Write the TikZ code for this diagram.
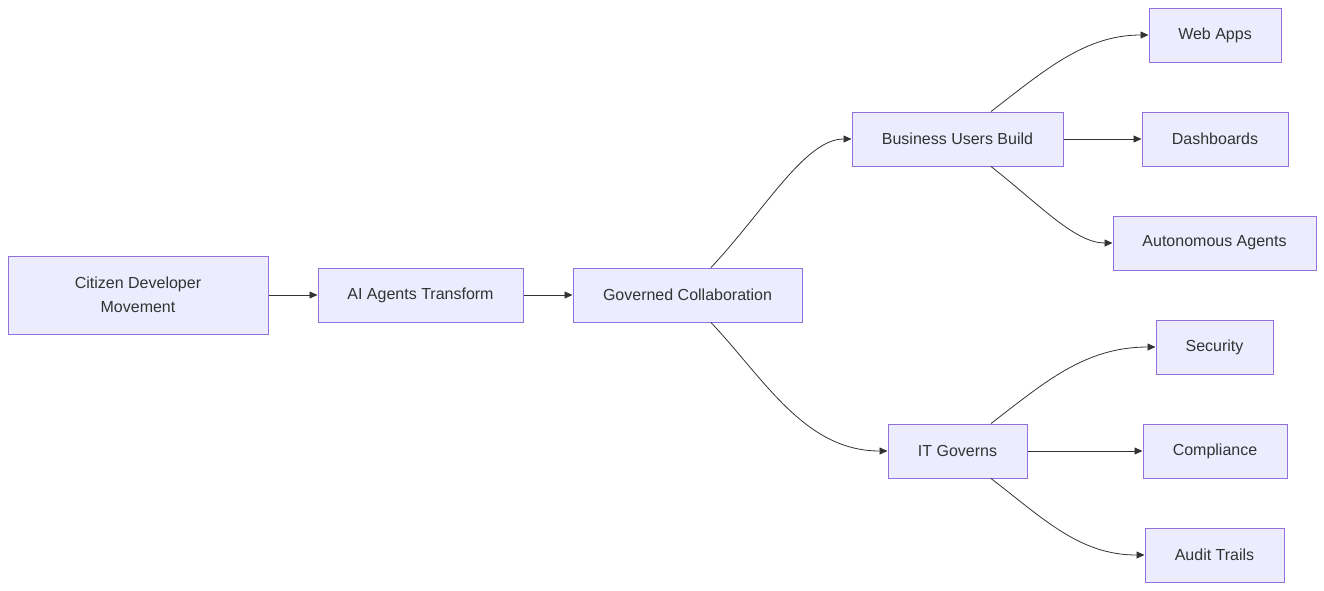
\documentclass[tikz,border=0pt]{standalone}
\usepackage{fontspec}
\setmainfont{Liberation Sans}
\usetikzlibrary{arrows.meta}
\definecolor{nodefill}{HTML}{ECECFF}
\definecolor{nodeborder}{HTML}{9370DB}
\definecolor{txt}{HTML}{333333}
\definecolor{edge}{HTML}{333333}
\tikzset{
  box/.style={draw=nodeborder, fill=nodefill, line width=1pt, inner sep=0pt,
    text=txt, font=\fontsize{16}{24}\selectfont, align=center},
  conn/.style={draw=edge, line width=0.8pt, -{Triangle[length=8pt,width=7pt]}}
}
\begin{document}
\begin{tikzpicture}[x=1pt,y=-1pt]
\useasboundingbox (0,0) rectangle (1324,590);
\node[box, minimum width=260pt, minimum height=78pt] (cit) at (138,295) {Citizen Developer\\Movement};
\node[box, minimum width=205pt, minimum height=54pt] (ai) at (420.5,295) {AI Agents Transform};
\node[box, minimum width=229pt, minimum height=54pt] (gov) at (687.5,295) {Governed Collaboration};
\node[box, minimum width=211pt, minimum height=54pt] (bus) at (957.5,139) {Business Users Build};
\node[box, minimum width=139pt, minimum height=54pt] (it) at (957.5,451) {IT Governs};
\node[box, minimum width=132pt, minimum height=54pt] (web) at (1215,35) {Web Apps};
\node[box, minimum width=146pt, minimum height=54pt] (dash) at (1215,139) {Dashboards};
\node[box, minimum width=203pt, minimum height=54pt] (auto) at (1214.5,243) {Autonomous Agents};
\node[box, minimum width=117pt, minimum height=54pt] (sec) at (1214.5,347) {Security};
\node[box, minimum width=144pt, minimum height=54pt] (comp) at (1215,451) {Compliance};
\node[box, minimum width=139pt, minimum height=54pt] (aud) at (1214.5,555) {Audit Trails};

\draw[conn] (cit.east) -- (ai.west);
\draw[conn] (ai.east) -- (gov.west);
\draw[conn] ([xshift=23.5pt]gov.north) .. controls (765,210) and (805,139) .. (bus.west);
\draw[conn] ([xshift=23.5pt]gov.south) .. controls (765,380) and (805,451) .. (it.west);
\draw[conn] ([xshift=33.5pt]bus.north) .. controls (1045,70) and (1085,35) .. (web.west);
\draw[conn] (bus.east) -- (dash.west);
\draw[conn] ([xshift=33.5pt]bus.south) .. controls (1040,205) and (1075,243) .. (auto.west);
\draw[conn] ([xshift=33.5pt]it.north) .. controls (1045,382) and (1085,347) .. (sec.west);
\draw[conn] (it.east) -- (comp.west);
\draw[conn] ([xshift=33.5pt]it.south) .. controls (1045,520) and (1080,555) .. (aud.west);
\end{tikzpicture}
\end{document}
